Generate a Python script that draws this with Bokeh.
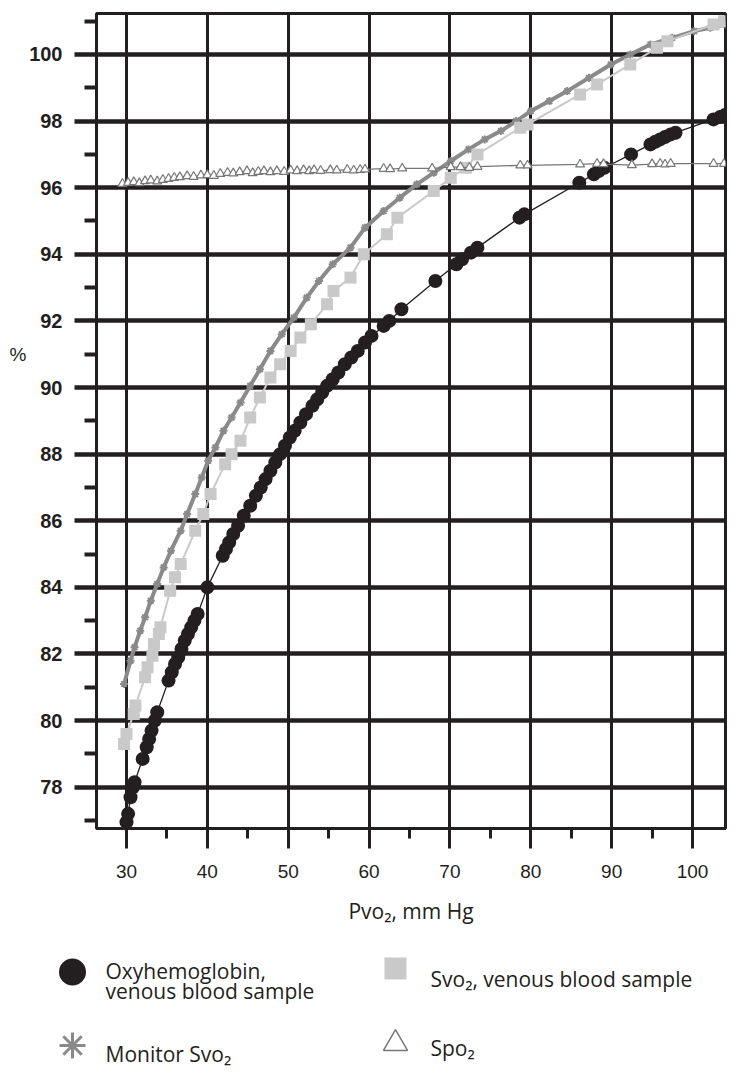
from bokeh.plotting import figure
from bokeh.models import FixedTicker, Range1d, LinearAxis
from bokeh.layouts import column
from bokeh.core.properties import value
from bokeh.embed import file_html
from bokeh.resources import INLINE

# ---------------- data ----------------
oxy_x = [30.0, 30.2, 30.5, 30.8, 31.0, 32.0, 32.5, 32.8, 33.1, 33.5, 33.8, 35.2, 35.6, 36.0,
         36.4, 36.8, 37.2, 37.6, 38.0, 38.4, 38.8, 40.0, 41.9, 42.3, 42.7, 43.2, 43.8, 44.5,
         45.3, 46.0, 46.6, 47.2, 47.8, 48.4, 49.0, 49.6, 50.2, 50.8, 51.5, 52.2, 53.0, 53.6,
         54.2, 54.8, 55.5, 56.2, 57.0, 57.8, 58.6, 59.5, 60.3, 61.8, 62.5, 64.0, 68.2, 70.8,
         71.5, 72.6, 73.4, 78.6, 79.2, 86.0, 87.8, 88.4, 89.1, 92.4, 94.8, 95.4, 96.0, 96.6,
         97.3, 97.9, 102.6, 103.4, 104.0]
oxy_y = [76.95, 77.2, 77.7, 78.0, 78.15, 78.85, 79.2, 79.45, 79.7, 80.0, 80.25, 81.2, 81.45, 81.7,
         81.9, 82.15, 82.4, 82.6, 82.8, 83.0, 83.2, 84.0, 84.95, 85.15, 85.35, 85.6, 85.85, 86.15,
         86.45, 86.75, 87.0, 87.25, 87.5, 87.75, 88.0, 88.25, 88.5, 88.7, 88.95, 89.2, 89.45, 89.65,
         89.85, 90.05, 90.25, 90.45, 90.7, 90.9, 91.1, 91.35, 91.55, 91.85, 92.0, 92.35, 93.2, 93.7,
         93.85, 94.05, 94.2, 95.1, 95.2, 96.15, 96.4, 96.5, 96.6, 97.0, 97.3, 97.38, 97.45, 97.52,
         97.6, 97.65, 98.05, 98.12, 98.18]

svo2_x = [29.7, 30.0, 30.9, 31.1, 32.3, 32.6, 33.2, 33.4, 34.0, 34.2, 35.4, 36.0, 36.7, 38.5,
          39.5, 40.4, 42.2, 43.0, 44.1, 45.3, 46.5, 47.8, 49.0, 50.3, 51.5, 52.8, 54.8, 55.6,
          57.7, 59.35, 62.2, 63.5, 68.0, 70.1, 72.0, 73.4, 78.7, 79.6, 86.1, 88.2, 92.3, 95.6,
          96.9, 102.6, 103.9]
svo2_y = [79.3, 79.6, 80.2, 80.45, 81.3, 81.6, 81.95, 82.3, 82.6, 82.8, 83.9, 84.3, 84.7, 85.7,
          86.2, 86.8, 87.7, 88.0, 88.4, 89.1, 89.7, 90.3, 90.7, 91.1, 91.5, 91.9, 92.5, 92.9,
          93.3, 94.0, 94.6, 95.1, 95.9, 96.3, 96.6, 97.0, 97.8, 97.9, 98.8, 99.1, 99.7, 100.2,
          100.4, 100.9, 101.0]

mon_x = [29.7, 30.5, 31.0, 31.7, 32.3, 33.0, 33.8, 34.6, 35.5, 36.7, 37.5, 38.5, 39.3, 40.1,
         41.0, 42.0, 43.0, 44.1, 45.3, 46.5, 47.8, 49.2, 50.7, 52.3, 53.8, 55.5, 57.7, 59.5,
         61.8, 63.8, 65.9, 68.0, 70.1, 72.3, 74.3, 76.3, 78.2, 80.0, 82.3, 84.5, 87.2, 89.9,
         92.3, 94.8, 97.5, 100.2, 102.2, 104.1]
mon_y = [81.1, 81.8, 82.2, 82.7, 83.1, 83.6, 84.1, 84.6, 85.1, 85.7, 86.2, 86.8, 87.3, 87.8,
         88.2, 88.7, 89.1, 89.55, 90.05, 90.55, 91.1, 91.6, 92.1, 92.7, 93.2, 93.7, 94.2, 94.8,
         95.3, 95.7, 96.1, 96.45, 96.8, 97.15, 97.45, 97.7, 98.0, 98.3, 98.6, 98.9, 99.3, 99.7,
         100.0, 100.3, 100.5, 100.7, 100.8, 100.9]

spo2_x = [29.5, 30.2, 30.9, 31.6, 32.3, 33.0, 33.8, 34.5, 35.2, 35.9, 36.6, 37.5, 38.3, 39.2,
          40.0, 40.8, 41.6, 42.5, 43.2, 44.0, 44.9, 45.6, 46.3, 47.0, 47.8, 48.6, 49.5, 50.3,
          51.1, 51.9, 52.6, 53.2, 54.0, 55.2, 56.0, 57.3, 58.1, 58.9, 59.5, 61.8, 62.6, 64.1,
          67.8, 70.1, 71.3, 72.4, 73.4, 78.7, 79.6, 86.1, 88.2, 89.0, 92.5, 95.0, 96.0, 96.6,
          97.3, 102.6, 103.9]
spo2_y = [96.12, 96.15, 96.17, 96.14, 96.2, 96.22, 96.19, 96.24, 96.27, 96.3, 96.32, 96.35, 96.33, 96.37,
          96.38, 96.36, 96.42, 96.45, 96.43, 96.47, 96.5, 96.44, 96.48, 96.5, 96.47, 96.5, 96.48, 96.52,
          96.5, 96.53, 96.5, 96.53, 96.51, 96.53, 96.52, 96.54, 96.52, 96.54, 96.55, 96.57, 96.56, 96.58,
          96.58, 96.62, 96.62, 96.6, 96.63, 96.67, 96.67, 96.7, 96.72, 96.71, 96.68, 96.71, 96.72, 96.7,
          96.72, 96.72, 96.72]

x_major = [30, 40, 50, 60, 70, 80, 90, 100]
x_minor = [35, 45, 55, 65, 75, 85, 95]
y_major = [78, 80, 82, 84, 86, 88, 90, 92, 94, 96, 98, 100]
y_minor = [77, 79, 81, 83, 85, 87, 89, 91, 93, 95, 97, 99, 101]

x_title = "Pvo\u2082, mm Hg"
y_title = "%"
y_title_at = 91
legend_labels = [["Oxyhemoglobin,", "venous blood sample"],
                 ["Svo\u2082, venous blood sample"],
                 ["Monitor Svo\u2082"],
                 ["Spo\u2082"]]

# ---------------- styles ----------------
INK = "#231f20"
C_OXY = "#231f20"
C_SVO2 = "#c9c9c9"
C_MON = "#8a8a8a"
C_SPO2 = "#777777"
TXT_FONT = "Open Sans"
NUM_FONT = "Liberation Sans"

W = 750
H_MAIN = 943
H_LEG = 146

p = figure(width=W, height=H_MAIN,
           x_range=Range1d(26.29, 104.08), y_range=Range1d(76.76, 101.23),
           output_backend="svg", toolbar_location=None,
           min_border_left=96, min_border_right=25, min_border_top=13, min_border_bottom=115)
p.frame_align = False
p.background_fill_color = "white"
p.border_fill_color = "white"
p.outline_line_color = INK
p.outline_line_width = 3

# grid
p.xgrid.ticker = FixedTicker(ticks=x_major)
p.ygrid.ticker = FixedTicker(ticks=y_major)
p.xgrid.grid_line_color = INK
p.xgrid.grid_line_width = 3
p.ygrid.grid_line_color = INK
p.ygrid.grid_line_width = 4.5

# axes
p.xaxis.ticker = FixedTicker(ticks=x_major, minor_ticks=x_minor)
p.yaxis.ticker = FixedTicker(ticks=y_major, minor_ticks=y_minor)
for ax in (p.xaxis, p.yaxis):
    ax.axis_line_color = INK
    ax.axis_line_width = 3
    ax.major_tick_line_color = INK
    ax.minor_tick_line_color = INK
    ax.major_tick_in = 0
    ax.minor_tick_in = 0
    ax.major_label_text_color = INK
    ax.major_label_text_font = NUM_FONT

p.yaxis.major_tick_out = 22
p.yaxis.major_tick_line_width = 4.5
p.yaxis.minor_tick_out = 12
p.yaxis.minor_tick_line_width = 4
p.yaxis.major_label_standoff = 12
p.yaxis.major_label_text_font_size = "20px"
p.yaxis.major_label_text_font_style = "bold"

p.xaxis.major_tick_out = 20
p.xaxis.major_tick_line_width = 3
p.xaxis.minor_tick_out = 10
p.xaxis.minor_tick_line_width = 3
p.xaxis.major_label_standoff = 16
p.xaxis.major_label_text_font_size = "19px"
p.xaxis.axis_label = x_title
p.xaxis.axis_label_text_font = TXT_FONT
p.xaxis.axis_label_text_font_size = "21px"
p.xaxis.axis_label_text_font_style = "normal"
p.xaxis.axis_label_text_color = INK
p.xaxis.axis_label_standoff = 16

# "%" title as an outer left axis holding a single labelled position
pct = LinearAxis(ticker=FixedTicker(ticks=[y_title_at]),
                 major_label_overrides={y_title_at: y_title},
                 axis_line_color=None, major_tick_line_color=None, minor_tick_line_color=None,
                 major_tick_out=0, major_tick_in=0, minor_tick_out=0, minor_tick_in=0,
                 major_label_standoff=0, major_label_text_font=NUM_FONT,
                 major_label_text_font_size="19px", major_label_text_color=INK)
p.add_layout(pct, "left")

# series
p.line(mon_x, mon_y, line_color=C_MON, line_width=4)
p.scatter(mon_x, mon_y, marker="asterisk", size=8, line_color=C_MON, line_width=2)

p.line(svo2_x, svo2_y, line_color=C_SVO2, line_width=2)
p.scatter(svo2_x, svo2_y, marker="square", size=12, fill_color=C_SVO2, line_color=None)

p.line(oxy_x, oxy_y, line_color=C_OXY, line_width=1.3)
p.scatter(oxy_x, oxy_y, marker="circle", size=14, fill_color=C_OXY, line_color=None)

p.line(spo2_x, spo2_y, line_color=C_SPO2, line_width=1.3)
p.scatter(spo2_x, spo2_y, marker="triangle", size=9, fill_color="white", line_color=C_SPO2, line_width=1.2)

# ---------------- legend panel (coordinates = page pixels) ----------------
lg = figure(width=W, height=H_LEG, x_range=Range1d(0, W), y_range=Range1d(H_MAIN + H_LEG, H_MAIN),
            output_backend="svg", toolbar_location=None, x_axis_type=None, y_axis_type=None,
            min_border=0, outline_line_color=None)
lg.frame_align = False
lg.grid.visible = False

lg.scatter([72], [971.5], marker="circle", size=27, fill_color=C_OXY, line_color=None)
lg.scatter([395], [968], marker="square", size=22, fill_color=C_SVO2, line_color=None)
lg.scatter([72], [1045], marker="asterisk", size=26, line_color=C_MON, line_width=3)
lg.scatter([395], [1043], marker="triangle", size=24, fill_color="white", line_color=C_SPO2, line_width=1.5)

text_x = [105, 105, 430, 105, 430]
text_y = [970, 990, 978, 1053, 1047]
texts = [legend_labels[0][0], legend_labels[0][1], legend_labels[1][0], legend_labels[2][0], legend_labels[3][0]]
lg.text(x=text_x, y=text_y, text=texts, text_font=value(TXT_FONT), text_font_size="21px",
        text_baseline="alphabetic", text_align="left", text_color=INK)

layout = column(p, lg, spacing=0)
open("out.html", "w").write(file_html(layout, INLINE))
